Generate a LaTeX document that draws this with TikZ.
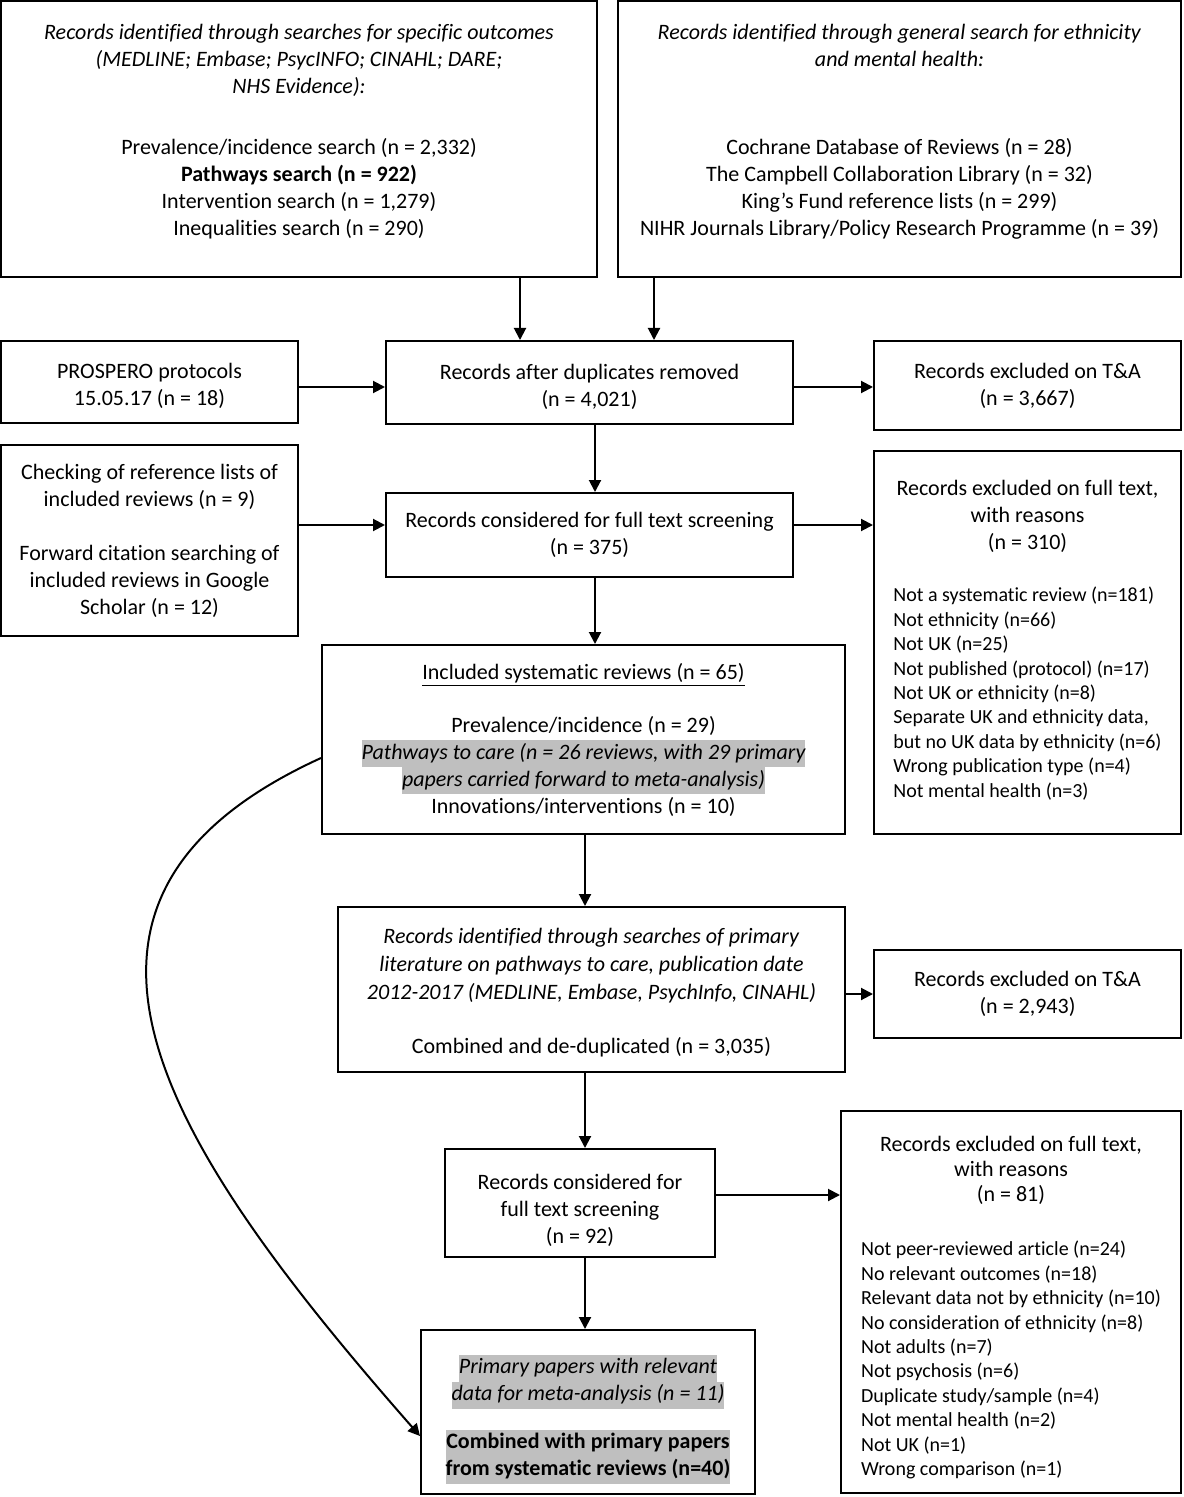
\documentclass[tikz,border=0pt]{standalone}
\usepackage{fontspec}
\setmainfont{Carlito}[Ligatures=NoCommon]
\usetikzlibrary{arrows.meta, calc}

\definecolor{hlgrey}{HTML}{BFBFBF}
\newcommand{\mainsize}{\fontsize{11pt}{13.5pt}\selectfont}
\newcommand{\listsize}{\fontsize{10pt}{12.2pt}\selectfont}
\newcommand{\greyline}[1]{{\setlength{\fboxsep}{0pt}\colorbox{hlgrey}{\strut #1}}}

\tikzset{
  box/.style={draw, line width=1pt, align=center, inner sep=0pt, font=\mainsize},
  arr/.style={-{Triangle[length=6pt, width=6pt]}, line width=1pt}
}

\begin{document}
\begin{tikzpicture}[x=0.5pt, y=-0.5pt]
  \useasboundingbox (0,0) rectangle (1183,1497);

  % Searches
  \node[box, minimum width=298pt, minimum height=138pt] (srchA) at (299,139)
    {\textit{Records identified through searches for specific outcomes}\\
     \textit{(MEDLINE; Embase; PsycINFO; CINAHL; DARE;}\\
     \textit{NHS Evidence):}\\[17pt]
     Prevalence/incidence search (n = 2,332)\\
     \textbf{Pathways search (n = 922)}\\
     Intervention search (n = 1,279)\\
     Inequalities search (n = 290)\\[-4pt] \mbox{}};
  \node[box, minimum width=281.5pt, minimum height=138pt] (srchB) at (899.5,139)
    {\textit{Records identified through general search for ethnicity}\\
     \textit{and mental health:}\\[30.5pt]
     Cochrane Database of Reviews (n = 28)\\
     The Campbell Collaboration Library (n = 32)\\
     King’s Fund reference lists (n = 299)\\
     NIHR Journals Library/Policy Research Programme (n = 39)\\[-4pt] \mbox{}};

  % Review stage
  \node[box, minimum width=148.5pt, minimum height=41pt] (prospero) at (149.5,382)
    {\rule{0pt}{11.25pt}PROSPERO protocols\\ 15.05.17 (n = 18)};
  \node[box, minimum width=203.5pt, minimum height=41.5pt] (dedup) at (589.5,382.5)
    {\rule{0pt}{12.25pt}Records after duplicates removed\\ (n = 4,021)};
  \node[box, minimum width=153.5pt, minimum height=44.5pt] (exclTA) at (1027.5,385.5)
    {Records excluded on T\&A\\ (n = 3,667)};
  \node[box, minimum width=148.5pt, minimum height=95.5pt] (checking) at (149.5,540.5)
    {Checking of reference lists of\\ included reviews (n = 9)\\[13.5pt]
     Forward citation searching of\\ included reviews in Google\\ Scholar (n = 12)};
  \node[box, minimum width=203.5pt, minimum height=42pt] (fulltext) at (589.5,535)
    {Records considered for full text screening\\ (n = 375)};
  \node[box, minimum width=153.5pt, minimum height=191.5pt] (exclFT) at (1027.5,642.5)
    {Records excluded on full text,\\ with reasons\\ (n = 310)\\[12.5pt]
     {\listsize\begin{tabular}[t]{@{}l@{}}
       Not a systematic review (n=181)\\
       Not ethnicity (n=66)\\
       Not UK (n=25)\\
       Not published (protocol) (n=17)\\
       Not UK or ethnicity (n=8)\\
       Separate UK and ethnicity data,\\
       but no UK data by ethnicity (n=6)\\
       Wrong publication type (n=4)\\
       Not mental health (n=3)
     \end{tabular}}};
  \node[box, minimum width=261.5pt, minimum height=94.5pt] (included) at (583.5,739.5)
    {\underline{Included systematic reviews (n = 65)}\\[13pt]
     Prevalence/incidence (n = 29)\\
     \greyline{\itshape Pathways to care (n = 26 reviews, with 29 primary}\\
     \greyline{\itshape papers carried forward to meta-analysis)}\\
     Innovations/interventions (n = 10)};

  % Primary literature stage
  \node[box, minimum width=253.5pt, minimum height=82.5pt] (primary) at (591.5,989.5)
    {\rule{0pt}{11.25pt}\textit{Records identified through searches of primary}\\[0.5pt]
     \textit{literature on pathways to care, publication date}\\[0.5pt]
     \textit{2012-2017 (MEDLINE, Embase, PsychInfo, CINAHL)}\\[13.5pt]
     Combined and de-duplicated (n = 3,035)};
  \node[box, minimum width=153.5pt, minimum height=44pt] (exclTAb) at (1027.5,994)
    {Records excluded on T\&A\\ (n = 2,943)};
  \node[box, minimum width=135pt, minimum height=54pt] (fulltextb) at (580,1203)
    {\rule{0pt}{15.25pt}Records considered for\\ full text screening\\ (n = 92)};
  \node[box, minimum width=170pt, minimum height=191pt] (exclFTb) at (1011,1302)
    {\rule{0pt}{15.25pt}Records excluded on full text,\\[-1pt] with reasons\\[-1pt] (n = 81)\\[13.5pt]
     {\listsize\begin{tabular}[t]{@{}l@{}}
       Not peer-reviewed article (n=24)\\
       No relevant outcomes (n=18)\\
       Relevant data not by ethnicity (n=10)\\
       No consideration of ethnicity (n=8)\\
       Not adults (n=7)\\
       Not psychosis (n=6)\\
       Duplicate study/sample (n=4)\\
       Not mental health (n=2)\\
       Not UK (n=1)\\
       Wrong comparison (n=1)
     \end{tabular}}};
  \node[box, minimum width=167pt, minimum height=82pt] (final) at (588,1412)
    {\rule{0pt}{16.5pt}\greyline{\itshape Primary papers with relevant}\\
     \greyline{\itshape data for meta-analysis (n = 11)}\\[10.5pt]
     \greyline{\bfseries Combined with primary papers}\\
     \greyline{\bfseries from systematic reviews (n=40)}};

  % Arrows
  \draw[arr] (srchA.south -| 520,0) -- (dedup.north -| 520,0);
  \draw[arr] (srchB.south -| 654,0) -- (dedup.north -| 654,0);
  \draw[arr] (prospero.east |- 0,387) -- (dedup.west |- 0,387);
  \draw[arr] (dedup.east |- 0,387) -- (exclTA.west |- 0,387);
  \draw[arr] (dedup.south -| 595,0) -- (fulltext.north -| 595,0);
  \draw[arr] (checking.east |- 0,525) -- (fulltext.west |- 0,525);
  \draw[arr] (fulltext.east |- 0,525) -- (exclFT.west |- 0,525);
  \draw[arr] (fulltext.south -| 595,0) -- (included.north -| 595,0);
  \draw[arr] (included.south -| 585,0) -- (primary.north -| 585,0);
  \draw[arr] (primary.east |- 0,994) -- (exclTAb.west |- 0,994);
  \draw[arr] (primary.south -| 585,0) -- (fulltextb.north -| 585,0);
  \draw[arr] (fulltextb.east |- 0,1195) -- (exclFTb.west |- 0,1195);
  \draw[arr] (fulltextb.south -| 585,0) -- (final.north -| 585,0);

  % Bypass curve
  \draw[arr] (included.west |- 0,758) .. controls (10,900) and (160,1140) .. (final.west |- 0,1436);
\end{tikzpicture}
\end{document}
